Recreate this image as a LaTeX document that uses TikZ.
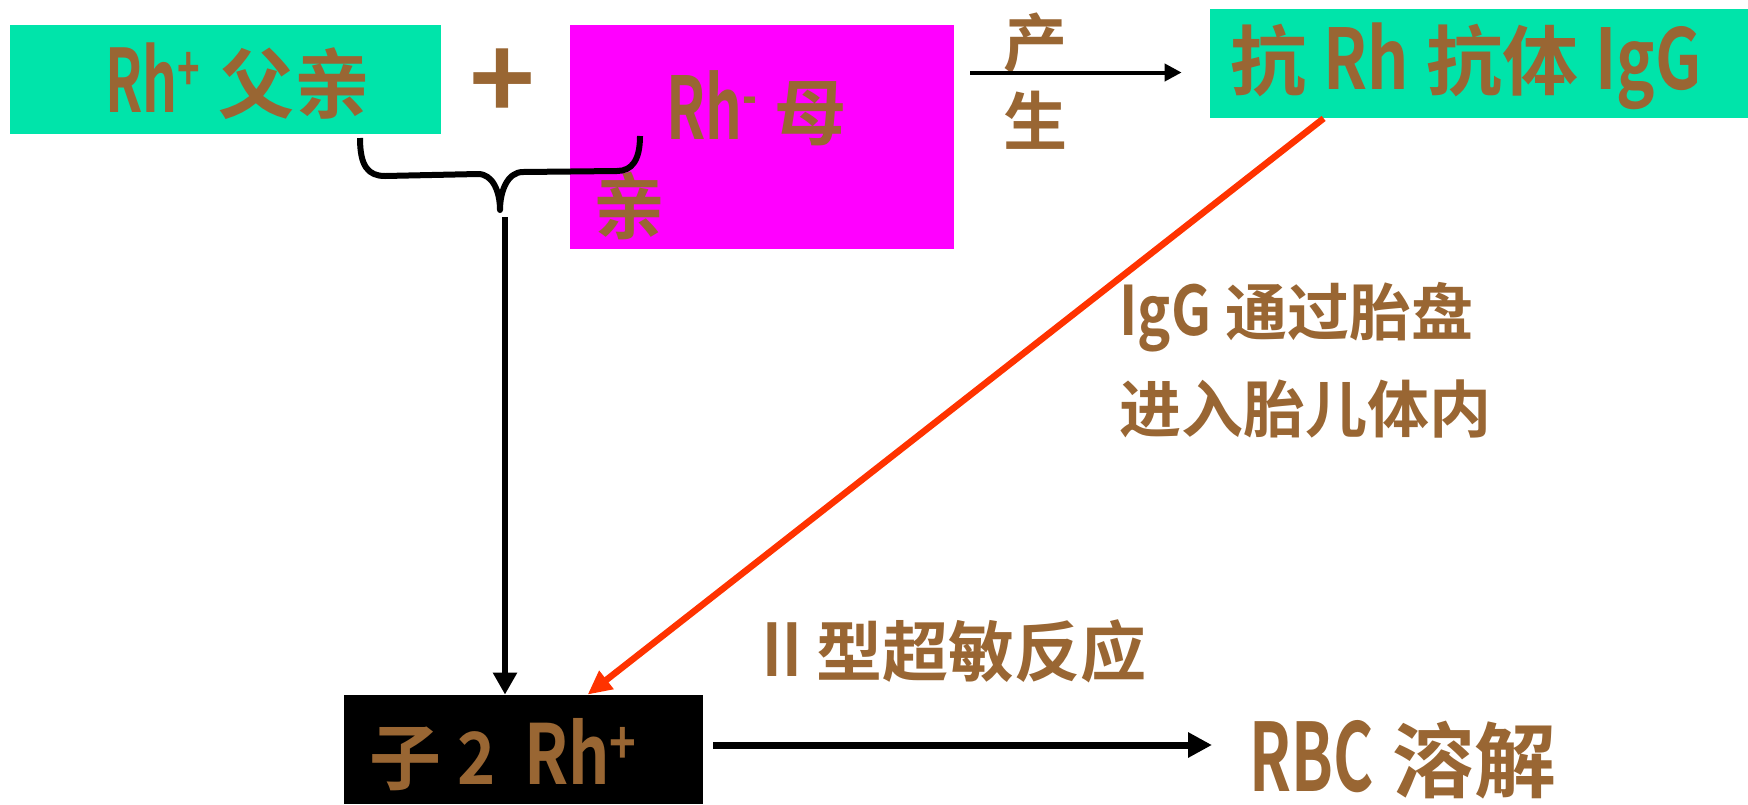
\documentclass[tikz,border=0pt]{standalone}
\usepackage{fontspec}
\usepackage{graphicx}
\setmainfont{Noto Sans CJK SC}[BoldFont=* Bold]
\usetikzlibrary{arrows.meta}
\definecolor{boxgreen}{HTML}{00E4AA}
\definecolor{boxmagenta}{HTML}{FF00FF}
\definecolor{txtbrown}{HTML}{996633}
\definecolor{arrred}{HTML}{FF3300}
% narrow, tall Latin runs
\newcommand{\latin}[3]{\scalebox{#1}[#2]{#3}}
\begin{document}
\begin{tikzpicture}[x=0.5pt,y=-0.5pt,
  lbl/.style={text=txtbrown, inner sep=0pt},
  fs/.style={font=\bfseries\fontsize{#1}{#1}\selectfont},
  panel/.style={inner sep=0pt, draw=none},
  thinarr/.style={line width=2pt, -{Triangle[length=8.5pt,width=8.5pt]}},
  midarr/.style={line width=2.75pt, -{Triangle[length=11pt,width=11.5pt]}},
  redarr/.style={draw=arrred, line width=3.25pt, -{Triangle[length=12pt,width=11pt]}},
  boldarr/.style={line width=3.5pt, -{Triangle[length=12pt,width=12pt]}},
  bracepen/.style={line width=3pt, line join=round}]
\useasboundingbox (0,0) rectangle (1748,804);
\fill[white] (0,0) rectangle (1748,804);

% boxes
\node[panel, fill=boxgreen, minimum width=215.5pt, minimum height=54.75pt] (father) at (225.5,79.25) {};
\node[panel, fill=boxmagenta, minimum width=192pt, minimum height=112.25pt] (mother) at (762,136.75) {};
\node[panel, fill=boxgreen, minimum width=269pt, minimum height=54.5pt] (antibody) at (1479,63.5) {};
\node[panel, fill=black, minimum width=179.5pt, minimum height=54.5pt] (child) at (523.5,749.5) {};

% texts
\node[lbl, fs=38, anchor=west] (fathertxt) at (105,81)
  {\latin{0.72}{1.15}{Rh\textsuperscript{+}} 父亲};
\node[lbl, fs=56] (plus) at (503,85) {+};
\node[lbl, fs=36, align=left, anchor=north west] (mothertxt) at (593,70)
  {\hspace*{36.5pt}\latin{0.8}{1.2}{Rh\textsuperscript{-}} 母\\[11pt]亲};
\node[lbl, fs=32, align=center] (produce) at (1035,81) {产\\[7pt]生};
\node[lbl, fs=38, anchor=west] (abtxt) at (1230,66)
  {抗 \latin{0.85}{1.1}{Rh} 抗体 \latin{0.85}{1.1}{IgG}};
\node[lbl, fs=31, align=left, anchor=west] (placenta) at (1119,360)
  {\latin{0.9}{1.1}{IgG} 通过胎盘\\[13pt]进入胎儿体内};
\node[lbl, fs=33, anchor=west] (hyper) at (762,651) {\latin{0.9}{1.1}{II} 型超敏反应};
\node[lbl, fs=36, anchor=west] (childtxt) at (369,755)
  {子 \latin{0.9}{1.0}{2}\hspace{6pt} \latin{0.9}{1.15}{Rh\textsuperscript{+}}};
\node[lbl, fs=41, anchor=west] (rbc) at (1249,760) {\latin{0.75}{1.15}{RBC} 溶解};

% brace joining the two parents
\draw[bracepen] (360,138) .. controls (360,166) and (368,176) .. (385,176)
  -- (478,174) .. controls (493,174) and (500,192) .. (500,210)
  .. controls (500,192) and (507,172) .. (523,172)
  -- (617,171) .. controls (632,171) and (640,160) .. (640,136);

% connectors
\coordinate (prodend) at ([yshift=-4.5pt]antibody.west);
\draw[thinarr, shorten <=8pt, shorten >=14pt] (mother.east |- prodend) -- (prodend);
\coordinate (stem) at (505,217);
\draw[midarr] (stem) -- (stem |- child.north);
\draw[redarr] ([xshift=57pt]antibody.south west) -- ([xshift=122pt]child.north west);
\coordinate (lysisstart) at ([yshift=2.25pt]child.east);
\draw[boldarr, shorten <=5pt, shorten >=18.5pt] (lysisstart) -- (lysisstart -| rbc.west);
\end{tikzpicture}
\end{document}
